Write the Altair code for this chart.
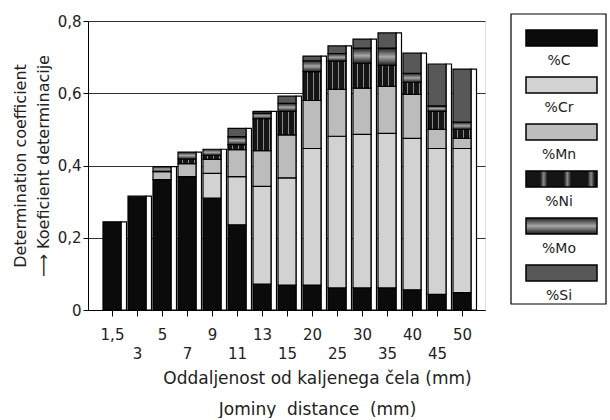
import json
import altair as alt
import pandas as pd

# ---- data ----
jominy = ["1,5", "3", "5", "7", "9", "11", "13", "15", "20", "25", "30", "35", "40", "45", "50"]
elements = ["C", "Cr", "Mn", "Ni", "Mo", "Si"]
legend_labels = ["%C", "%Cr", "%Mn", "%Ni", "%Mo", "%Si"]

C  = [0.244, 0.315, 0.361, 0.369, 0.310, 0.236, 0.072, 0.069, 0.069, 0.061, 0.061, 0.061, 0.056, 0.043, 0.048]
Cr = [0.000, 0.000, 0.000, 0.000, 0.068, 0.133, 0.270, 0.297, 0.378, 0.420, 0.425, 0.428, 0.419, 0.404, 0.399]
Mn = [0.000, 0.000, 0.022, 0.036, 0.039, 0.075, 0.099, 0.119, 0.133, 0.130, 0.128, 0.130, 0.122, 0.053, 0.028]
Ni = [0.000, 0.000, 0.000, 0.013, 0.011, 0.014, 0.089, 0.065, 0.080, 0.078, 0.069, 0.058, 0.033, 0.050, 0.025]
Mo = [0.000, 0.000, 0.014, 0.019, 0.017, 0.022, 0.015, 0.022, 0.030, 0.021, 0.042, 0.048, 0.025, 0.015, 0.020]
Si = [0.000, 0.000, 0.000, 0.000, 0.000, 0.023, 0.005, 0.020, 0.013, 0.021, 0.025, 0.042, 0.056, 0.116, 0.147]

series = {"C": C, "Cr": Cr, "Mn": Mn, "Ni": Ni, "Mo": Mo, "Si": Si}

FONT = "DejaVu Sans"
NB = "\u00a0"


def stripes(c1, c2, n, horizontal):
    stops, step = [], 1.0 / n
    for j in range(n):
        a = j * step
        stops += [alt.GradientStop(offset=a, color=c1),
                  alt.GradientStop(offset=a + step * 0.6, color=c1),
                  alt.GradientStop(offset=a + step * 0.75, color=c2),
                  alt.GradientStop(offset=min(1.0, a + step * 0.9), color=c1)]
    if horizontal:
        return alt.LinearGradient(gradient="linear", x1=0, y1=0, x2=1, y2=0, stops=stops)
    return alt.LinearGradient(gradient="linear", x1=0, y1=0, x2=0, y2=1, stops=stops)


fills = {
    "C": "#0b0b0b",
    "Cr": "#d2d2d2",
    "Mn": "#bcbcbc",
    "Ni": stripes("#151515", "#8a8a8a", 3, True),
    "Mo": alt.LinearGradient(gradient="linear", x1=0, y1=0, x2=0, y2=1, stops=[
        alt.GradientStop(offset=0, color="#1e1e1e"),
        alt.GradientStop(offset=0.5, color="#a8a8a8"),
        alt.GradientStop(offset=1, color="#1e1e1e")]),
    "Si": "#585858",
}

rows, tot = [], []
for i in range(len(jominy)):
    acc = 0.0
    for el in elements:
        v = series[el][i]
        if v > 0:
            rows.append({"i": i, "el": el, "y0": acc, "y1": acc + v})
        acc += v
    tot.append({"i": i, "total": acc})
df = pd.DataFrame(rows)
dft = pd.DataFrame(tot)

xscale = alt.Scale(domain=[-0.96, 14.92], nice=False, zero=False)
yscale = alt.Scale(domain=[0, 0.8], nice=False)

label_arr = json.dumps(jominy)
xaxis = alt.Axis(
    values=list(range(len(jominy))),
    labelExpr=f"datum.value % 2 == 1 ? ['', {label_arr}[datum.value]] : {label_arr}[datum.value]",
    labelOverlap=False, labelFlush=False, labelBound=False,
    labelFontSize=15, labelLineHeight=19, labelPadding=11, labelFont=FONT,
    tickSize=6, tickColor="black", domainColor="black", grid=False,
    title=["Oddaljenost od kaljenega čela (mm)", f"Jominy{NB}{NB}distance{NB}{NB}(mm)"],
    titleFontSize=17, titleFontWeight="normal", titleFont=FONT, titleLineHeight=31,
    titlePadding=9, titleX=229, titleAlign="center", titleColor="#222",
    labelColor="#222",
)
yaxis = alt.Axis(
    values=[0, 0.2, 0.4, 0.6, 0.8],
    labelExpr="datum.value == 0 ? '0' : replace(format(datum.value, '.1f'), '.', ',')",
    labelFontSize=15, labelFont=FONT, labelPadding=2, labelColor="#222",
    tickSize=5, tickColor="black", domainColor="black",
    grid=True, gridColor="#333", gridWidth=1,
    title=["Determination coefficient", "⟶ Koeficient determinacije"],
    titleFontSize=16, titleFontWeight="normal", titleFont=FONT, titleLineHeight=23,
    titlePadding=6, titleColor="#222",
)

side = alt.Chart(dft).transform_calculate(
    xa="datum.i + 0.36", xb="datum.i + 0.58"
).mark_bar(fill="white", stroke="black", strokeWidth=1.2).encode(
    x=alt.X("xa:Q", scale=xscale, axis=xaxis),
    x2="xb:Q",
    y=alt.Y("total:Q", scale=yscale, axis=yaxis),
    y2=alt.datum(0),
)

layers = [side]
for el in elements:
    layers.append(
        alt.Chart(df).transform_filter(f"datum.el == '{el}'").transform_calculate(
            xa="datum.i - 0.36", xb="datum.i + 0.36"
        ).mark_bar(fill=fills[el], stroke="black", strokeWidth=1.2).encode(
            x=alt.X("xa:Q", scale=xscale, axis=xaxis),
            x2="xb:Q",
            y=alt.Y("y0:Q", scale=yscale, axis=yaxis),
            y2="y1:Q",
        )
    )

main = alt.layer(*layers).properties(width=397, height=289)

# ---- custom legend panel ----
leg = pd.DataFrame({"el": elements, "k": list(range(len(elements))), "label": legend_labels})
lscale = alt.Scale(domain=[0, 6.02], nice=False, reverse=True)

box = alt.Chart(leg).transform_aggregate(n="count()").mark_rect(
    fill="white", stroke="black", strokeWidth=1.2
).encode(x=alt.value(0), x2=alt.value(95), y=alt.value(-7), y2=alt.value(283))

leg_layers = [box]
for k, el in enumerate(elements):
    leg_layers.append(
        alt.Chart(leg).transform_filter(f"datum.el == '{el}'").transform_calculate(
            ya="datum.k + 0.19", yb="datum.k + 0.53"
        ).mark_rect(fill=fills[el], stroke="black", strokeWidth=1.5).encode(
            x=alt.value(15), x2=alt.value(86),
            y=alt.Y("ya:Q", scale=lscale, axis=None), y2="yb:Q",
        )
    )
leg_layers.append(
    alt.Chart(leg).transform_calculate(yc="datum.k + 0.85").mark_text(
        fontSize=14, font=FONT, color="#222", baseline="middle", align="center"
    ).encode(
        x=alt.value(48),
        y=alt.Y("yc:Q", scale=lscale, axis=None),
        text="label:N",
    )
)
legend = alt.layer(*leg_layers).properties(
    width=95, height=283, view=alt.ViewConfig(stroke="transparent")
)

chart = alt.hconcat(main, legend, spacing=23).properties(
    padding={"left": 11, "top": 12, "right": 0, "bottom": 0}
).configure_view(stroke="black", strokeWidth=1.2).configure(background="white")

chart.save("out.html", embed_options={"renderer": "svg", "actions": False})
